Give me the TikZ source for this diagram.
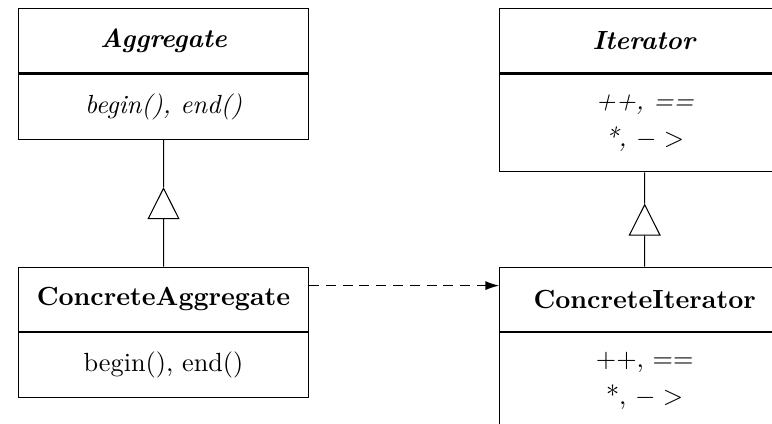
\documentclass[tikz,border=0pt]{standalone}
\usepackage{amsmath}
\usetikzlibrary{positioning,calc,arrows.meta}

\tikzset{
  classname/.style={draw, minimum width=110.5pt, minimum height=24.4pt, inner sep=2pt},
  classops/.style={draw, minimum width=110.5pt, minimum height=24.8pt, align=center, inner sep=2pt},
  inherits/.style={-{Triangle[length=12.2pt,width=12.2pt,fill=white]}},
}

\begin{document}
\begin{tikzpicture}
  \useasboundingbox (0,0) rectangle (294.1pt,-161.2pt);

  % Abstract classes
  \node[classname] (aggname) at (62.3pt,-15.6pt) {\textbf{\textit{Aggregate}}};
  \node[classops, below=0pt of aggname] (aggops) {\textit{begin(), end()}};
  \node[classname, right=72.4pt of aggname] (itername) {\textbf{\textit{Iterator}}};
  \node[classops, minimum height=37.3pt, font=\itshape, below=0pt of itername] (iterops) {++, ==\\[2.1pt] *, $->$};

  % Concrete classes
  \node[classname, below=48.4pt of aggops] (concaggname) {\textbf{ConcreteAggregate}};
  \node[classops, below=0pt of concaggname] (concaggops) {begin(), end()};
  \node[classname, right=72.4pt of concaggname] (conciterame) {\textbf{ConcreteIterator}};
  \node[classops, minimum height=37.3pt, below=0pt of conciterame] (conciterops) {++, ==\\[2.1pt] *, $->$};

  % Generalization
  \coordinate (aggtip) at ($(aggops.south)!0.5!(concaggname.north)+(0,6.1pt)$);
  \draw[inherits] (concaggname) -- (aggtip);
  \draw (aggtip) -- (aggops);
  \coordinate (itertip) at ($(iterops.south)!0.5!(conciterame.north)+(0,6.1pt)$);
  \draw[inherits] (conciterame) -- (itertip);
  \draw (itertip) -- (iterops);

  % Dependency
  \coordinate (depstart) at ([yshift=-7.2pt]concaggname.north east);
  \draw[dash pattern=on 3.8pt off 2.6pt, -{Latex[length=5.2pt,width=3.4pt]}] (depstart) -- (depstart -| conciterame.west);
\end{tikzpicture}
\end{document}
